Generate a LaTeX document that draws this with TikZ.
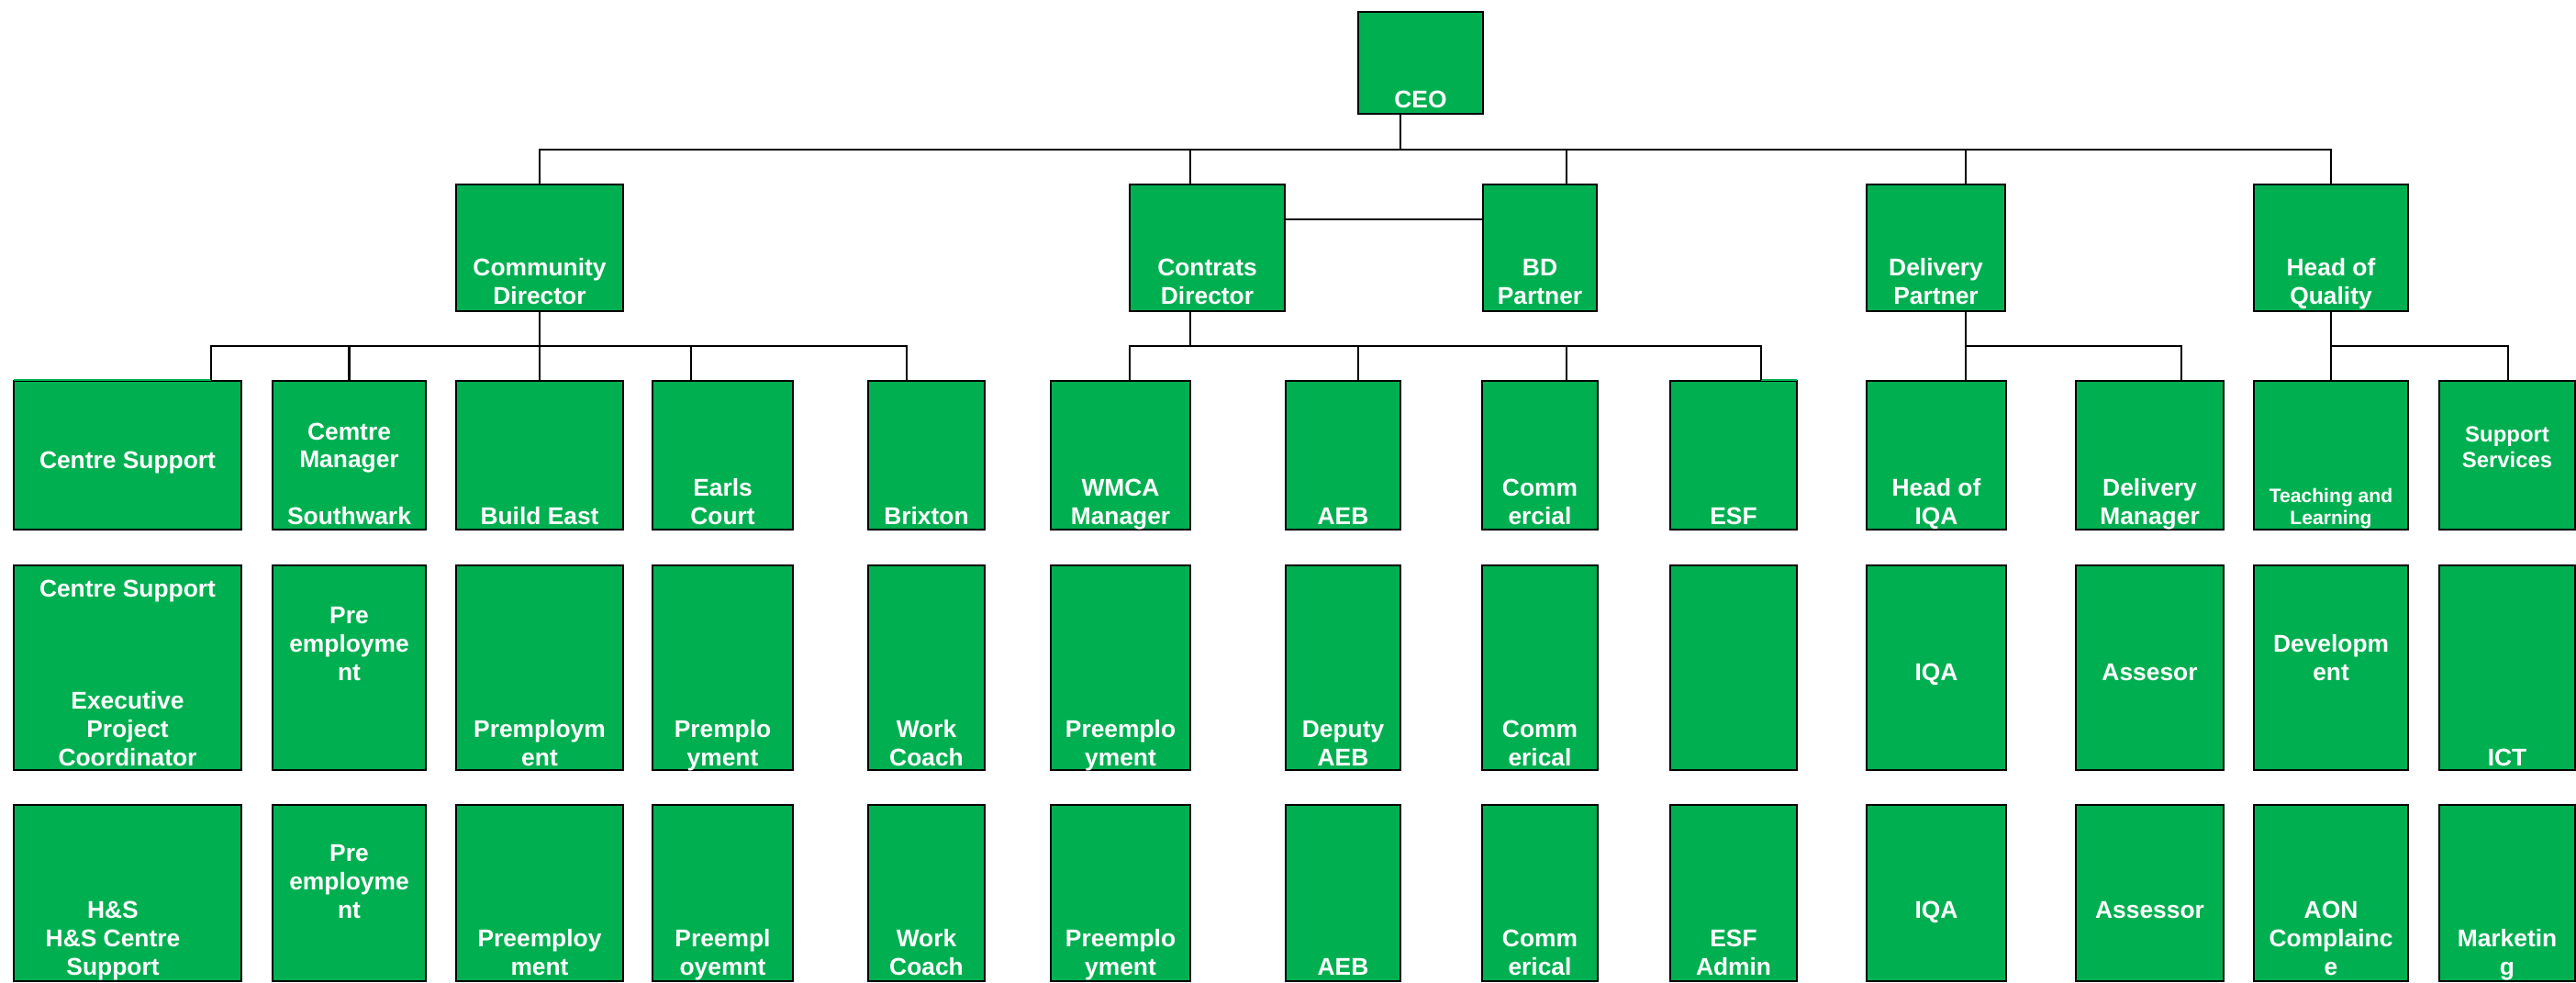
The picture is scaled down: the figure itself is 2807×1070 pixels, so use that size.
\documentclass[tikz,border=0pt]{standalone}
\usepackage{fontspec}
\setmainfont{Liberation Sans}
\usetikzlibrary{fit}
\definecolor{boxgreen}{RGB}{0,176,80}

\begin{document}
\begin{tikzpicture}[x=0.01cm,y=-0.01cm,line width=0.6pt,
box/.style={draw,fill=boxgreen,inner sep=0pt},
txt/.style={text=white,font=\bfseries\fontsize{7.5}{8.7}\selectfont,align=center,inner sep=0pt,anchor=base},
smalltxt/.style={txt,font=\bfseries\fontsize{6}{6.7}\selectfont},
midtxt/.style={txt,font=\bfseries\fontsize{6.8}{8}\selectfont}]
\useasboundingbox (0,0) rectangle (2807,1070);
% top levels
\node[box,fit={(1480,13) (1616,124)}] (ceo) {};
\node[txt] (ceo-t) at (1548,117.3) {CEO};
\node[box,fit={(497,201) (679,339)}] (comdir) {};
\node[txt] (comdir-t) at (588,331) {Community\\Director};
\node[box,fit={(1231,201) (1400,339)}] (condir) {};
\node[txt] (condir-t) at (1315.5,331) {Contrats\\Director};
\node[box,fit={(1616,201) (1740,339)}] (bdp) {};
\node[txt] (bdp-t) at (1678,331) {BD\\Partner};
\node[box,fit={(2034,201) (2185,339)}] (delp) {};
\node[txt] (delp-t) at (2109.5,331) {Delivery\\Partner};
\node[box,fit={(2456,201) (2624,339)}] (hoq) {};
\node[txt] (hoq-t) at (2540,331) {Head of\\Quality};
% first row
\node[box,fit={(15,415) (263,577)}] (cs-1) {};
\node[txt] (cs-1t) at (139,510) {Centre Support};
\node[box,fit={(297,415) (464,577)}] (cms-1) {};
\node[txt] (cms-1t) at (380.5,571) {Cemtre\\Manager\\ \\Southwark};
\node[box,fit={(497,415) (679,577)}] (bre-1) {};
\node[txt] (bre-1t) at (588,571) {Build East};
\node[box,fit={(711,415) (864,577)}] (ecrt-1) {};
\node[txt] (ecrt-1t) at (787.5,571) {Earls\\Court};
\node[box,fit={(946,415) (1073,577)}] (brx-1) {};
\node[txt] (brx-1t) at (1009.5,571) {Brixton};
\node[box,fit={(1145,415) (1297,577)}] (wmca-1) {};
\node[txt] (wmca-1t) at (1221,571) {WMCA\\Manager};
\node[box,fit={(1401,415) (1526,577)}] (aeb-1) {};
\node[txt] (aeb-1t) at (1463.5,571) {AEB};
\node[box,fit={(1615,415) (1741,577)}] (comm-1) {};
\node[txt] (comm-1t) at (1678,571) {Comm\\ercial};
\node[box,fit={(1820,415) (1958,577)}] (esf-1) {};
\node[txt] (esf-1t) at (1889,571) {ESF};
\node[box,fit={(2034,415) (2186,577)}] (hiqa-1) {};
\node[txt] (hiqa-1t) at (2110,571) {Head of\\IQA};
\node[box,fit={(2262,415) (2423,577)}] (dman-1) {};
\node[txt] (dman-1t) at (2342.5,571) {Delivery\\Manager};
\node[box,fit={(2456,415) (2624,577)}] (tl-1) {};
\node[smalltxt] (tl-1t) at (2540,571) {Teaching and\\Learning};
\node[box,fit={(2658,415) (2806,577)}] (ss-1) {};
\node[midtxt] (ss-1t) at (2732,509.5) {Support\\Services};
% second row
\node[box,fit={(15,616) (263,839)}] (cs-2) {};
\node[txt] (cs-2t) at (139,834) {Centre Support\\ \\ \\ \\Executive\\Project\\Coordinator};
\node[box,fit={(297,616) (464,839)}] (cms-2) {};
\node[txt] (cms-2t) at (380.5,741) {Pre\\employme\\nt};
\node[box,fit={(497,616) (679,839)}] (bre-2) {};
\node[txt] (bre-2t) at (588,834) {Premploym\\ent};
\node[box,fit={(711,616) (864,839)}] (ecrt-2) {};
\node[txt] (ecrt-2t) at (787.5,834) {Premplo\\yment};
\node[box,fit={(946,616) (1073,839)}] (brx-2) {};
\node[txt] (brx-2t) at (1009.5,834) {Work\\Coach};
\node[box,fit={(1145,616) (1297,839)}] (wmca-2) {};
\node[txt] (wmca-2t) at (1221,834) {Preemplo\\yment};
\node[box,fit={(1401,616) (1526,839)}] (aeb-2) {};
\node[txt] (aeb-2t) at (1463.5,834) {Deputy\\AEB};
\node[box,fit={(1615,616) (1741,839)}] (comm-2) {};
\node[txt] (comm-2t) at (1678,834) {Comm\\erical};
\node[box,fit={(1820,616) (1958,839)}] (esf-2) {};
\node[box,fit={(2034,616) (2186,839)}] (hiqa-2) {};
\node[txt] (hiqa-2t) at (2110,741) {IQA};
\node[box,fit={(2262,616) (2423,839)}] (dman-2) {};
\node[txt] (dman-2t) at (2342.5,741) {Assesor};
\node[box,fit={(2456,616) (2624,839)}] (tl-2) {};
\node[txt] (tl-2t) at (2540,741) {Developm\\ent};
\node[box,fit={(2658,616) (2806,839)}] (ss-2) {};
\node[txt] (ss-2t) at (2732,834) {ICT};
% third row
\node[box,fit={(15,877) (263,1069)}] (cs-3) {};
\node[txt] (cs-3t) at (123,1062) {H\&S\\H\&S Centre\\Support};
\node[box,fit={(297,877) (464,1069)}] (cms-3) {};
\node[txt] (cms-3t) at (380.5,1000) {Pre\\employme\\nt};
\node[box,fit={(497,877) (679,1069)}] (bre-3) {};
\node[txt] (bre-3t) at (588,1062) {Preemploy\\ment};
\node[box,fit={(711,877) (864,1069)}] (ecrt-3) {};
\node[txt] (ecrt-3t) at (787.5,1062) {Preempl\\oyemnt};
\node[box,fit={(946,877) (1073,1069)}] (brx-3) {};
\node[txt] (brx-3t) at (1009.5,1062) {Work\\Coach};
\node[box,fit={(1145,877) (1297,1069)}] (wmca-3) {};
\node[txt] (wmca-3t) at (1221,1062) {Preemplo\\yment};
\node[box,fit={(1401,877) (1526,1069)}] (aeb-3) {};
\node[txt] (aeb-3t) at (1463.5,1062) {AEB};
\node[box,fit={(1615,877) (1741,1069)}] (comm-3) {};
\node[txt] (comm-3t) at (1678,1062) {Comm\\erical};
\node[box,fit={(1820,877) (1958,1069)}] (esf-3) {};
\node[txt] (esf-3t) at (1889,1062) {ESF\\Admin};
\node[box,fit={(2034,877) (2186,1069)}] (hiqa-3) {};
\node[txt] (hiqa-3t) at (2110,1000) {IQA};
\node[box,fit={(2262,877) (2423,1069)}] (dman-3) {};
\node[txt] (dman-3t) at (2342.5,1000) {Assessor};
\node[box,fit={(2456,877) (2624,1069)}] (tl-3) {};
\node[txt] (tl-3t) at (2540,1062) {AON\\Complainc\\e};
\node[box,fit={(2658,877) (2806,1069)}] (ss-3) {};
\node[txt] (ss-3t) at (2732,1062) {Marketin\\g};
% connectors
\coordinate (b0) at (1526,163);
\coordinate (b1) at (1297,163);
\coordinate (b2) at (1706.7,163);
\coordinate (b3) at (2142,163);
\draw (ceo.south -| b0) -- (b0);
\draw (comdir.north) |- (b0) -| (hoq.north);
\draw (b1) -- (b1 |- condir.north);
\draw (b2) -- (b2 |- bdp.north);
\draw (b3) -- (b3 |- delp.north);
\draw ([yshift=0.313cm]condir.east) -- ([yshift=0.313cm]condir.east -| bdp.west);
\coordinate (k1) at (229.7,376.7);
\coordinate (k4) at (752.7,376.7);
\coordinate (k5) at (987.7,376.7);
% top edge missing left of the drop
\draw[boxgreen,line width=0.7pt] ([xshift=0.3pt]cs-1.north west) -- (k1 |- cs-1.north);
\draw (comdir.south) -- (bre-1.north);
\draw (k1 |- cs-1.north) -- (k1) -- (k5) -- (k5 |- brx-1.north);
\draw (cms-1.north) -- (cms-1.north |- k1);
\draw (k4) -- (k4 |- ecrt-1.north);
\coordinate (m0) at (1297,376.7);
\coordinate (m1) at (1230.6,376.7);
\coordinate (m2) at (1480,376.7);
\coordinate (m3) at (1706.7,376.7);
\coordinate (m4) at (1918.6,376.7);
% top edge missing right of the drop
\draw[boxgreen,line width=0.7pt] (m4 |- esf-1.north) -- ([xshift=-0.3pt]esf-1.north east);
\draw (m0 |- condir.south) -- (m0);
\draw (m1 |- wmca-1.north) -- (m1) -- (m4) -- (m4 |- esf-1.north);
\draw (m2) -- (m2 |- aeb-1.north);
\draw (m3) -- (m3 |- comm-1.north);
\coordinate (d0) at (2142,376.7);
\coordinate (d1) at (2376.7,376.7);
\draw (d0 |- delp.south) -- (d0 |- hiqa-1.north);
\draw (d0) -- (d1) -- (d1 |- dman-1.north);
\coordinate (q1) at (2733,376.7);
\draw (hoq.south) -- (tl-1.north);
\draw (hoq.south |- q1) -- (q1) -- (q1 |- ss-1.north);
\end{tikzpicture}
\end{document}
